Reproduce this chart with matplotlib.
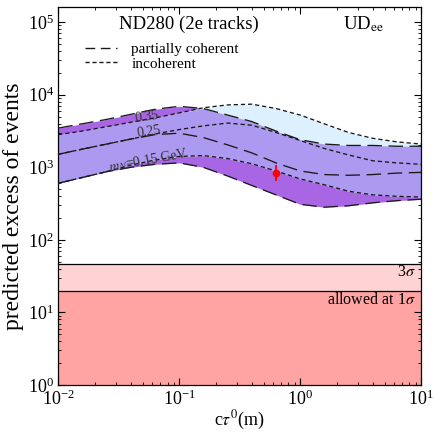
import numpy as np
import matplotlib
matplotlib.use("Agg")
import matplotlib.pyplot as plt
from matplotlib.lines import Line2D
from matplotlib.ticker import LogLocator, NullFormatter
import matplotlib.transforms as mtransforms

plt.rcParams['font.family'] = ['Liberation Serif', 'DejaVu Serif']
plt.rcParams['mathtext.fontset'] = 'stix'

# ---- data ----
ctau = [0.01, 0.0158, 0.0251, 0.0398, 0.0631, 0.1, 0.158, 0.251, 0.398,
        0.631, 1.0, 1.58, 2.51, 3.98, 6.31, 10.0]
# partially coherent
pc_035 = [3470, 3980, 4570, 5370, 6310, 6920, 6460, 5250, 4270, 3160, 2400,
          2090, 2000, 2000, 1950, 1950]
pc_025 = [1510, 1780, 2090, 2450, 2820, 2950, 2570, 2040, 1580, 1150, 891,
          794, 776, 794, 832, 851]
pc_015 = [603, 724, 871, 1000, 1100, 1150, 1000, 759, 562, 417, 309, 282,
          295, 324, 347, 363]
# incoherent
inc_035 = [2820, 3160, 3630, 4170, 4790, 5620, 6610, 7240, 7410, 6460, 5250,
           3980, 3020, 2510, 2240, 2090]
inc_025 = [1510, 1780, 2090, 2450, 2880, 3310, 3720, 4070, 3800, 3020, 2340,
           1820, 1480, 1230, 1150, 1100]
inc_015 = [603, 724, 871, 1070, 1260, 1410, 1450, 1320, 1120, 891, 692, 575,
           468, 417, 398, 389]

sigma1 = 20
sigma3 = 47
point_x = 0.63
point_y = 830
point_lo = 650
point_hi = 1060

x = np.array(ctau)
pc15, pc35 = np.array(pc_015), np.array(pc_035)
in15, in35 = np.array(inc_015), np.array(inc_035)

fig = plt.figure(figsize=(4.35, 4.32), dpi=100)
ax = fig.add_axes([0.134, 0.1088, 0.834, 0.8742])
ax.set_xscale('log')
ax.set_yscale('log')
ax.set_xlim(0.01, 10)
ax.set_ylim(1, 1.6e5)

c_dark = '#A966E4'
c_lav = '#AC99F0'
c_blue = '#DDF0FD'

ax.fill_between(x, pc15, pc35, color=c_dark, lw=0, zorder=1)
ax.fill_between(x, in15, in35, color=c_blue, lw=0, zorder=1)
lo = np.maximum(pc15, in15)
hi = np.minimum(pc35, in35)
ax.fill_between(x, lo, hi, where=hi >= lo, interpolate=True, color=c_lav,
                lw=0, zorder=2)

# red bands
ax.axhspan(1, sigma1, color='#FFA3A3', lw=0, zorder=1)
ax.axhspan(sigma1, sigma3, color='#FFD3D3', lw=0, zorder=1)
ax.axhline(sigma1, color='black', lw=0.9, zorder=3)
ax.axhline(sigma3, color='black', lw=0.9, zorder=3)

long_ls = (0, (11, 5))
short_ls = (0, (3.2, 2.2))
for y in (pc_035, pc_025, pc_015):
    ax.plot(x, y, color='#1a1a1a', lw=0.95, ls=long_ls, zorder=4)
for y in (inc_035, inc_025, inc_015):
    ax.plot(x, y, color='#1a1a1a', lw=0.95, ls=short_ls, zorder=4)

ax.errorbar([point_x], [point_y],
            yerr=[[point_y - point_lo], [point_hi - point_y]],
            fmt='o', color='red', ms=4.5, elinewidth=1.3, capsize=0, zorder=6)

# curve labels
lab_kw = dict(fontsize=10, color='#333333', ha='center', va='center', zorder=5)
ax.text(0.054, 5000, '0.35', rotation=8, **lab_kw)
ax.text(0.056, 3090, '0.25', rotation=8, **lab_kw)
ax.text(0.056, 1250, r'$m_N$=0.15 GeV', rotation=10, **lab_kw)

# titles
ax.text(0.36, 0.955, 'ND280 (2e tracks)', transform=ax.transAxes,
        fontsize=13.5, ha='center', va='center')
ax.text(0.84, 0.955, r'UD$_{\rm ee}$', transform=ax.transAxes,
        fontsize=13.5, ha='center', va='center')

blend = mtransforms.blended_transform_factory(ax.transAxes, ax.transData)
ax.text(0.985, 36, r'3$\sigma$', transform=blend, fontsize=11.5,
        ha='right', va='center')
ax.text(0.985, 15, r'allowed at 1$\sigma$', transform=blend,
        fontsize=11.5, ha='right', va='center')

handles = [Line2D([], [], color='#1a1a1a', lw=1.0, ls=(0, (7, 4))),
           Line2D([], [], color='#1a1a1a', lw=1.0, ls=(0, (3, 2)))]
ax.legend(handles, ['partially coherent', 'incoherent'], loc='upper left',
          bbox_to_anchor=(0.045, 0.935), frameon=False, fontsize=11,
          handlelength=2.1, handletextpad=0.9, labelspacing=0.05,
          borderpad=0.2)

ax.set_xlabel(r'c$\tau^0$(m)', fontsize=13, labelpad=0)
ax.set_ylabel('predicted excess of events', fontsize=17)
ax.yaxis.set_label_coords(-0.095, 0.474)

ax.yaxis.set_major_locator(LogLocator(base=10, numticks=10))
ax.yaxis.set_minor_locator(LogLocator(base=10, subs=np.arange(2, 10), numticks=10))
ax.yaxis.set_minor_formatter(NullFormatter())
ax.tick_params(which='both', direction='in', top=True, right=True)
ax.tick_params(which='major', length=5, width=0.8, labelsize=13, pad=3)
ax.tick_params(which='minor', length=2.5, width=0.6)
for s in ax.spines.values():
    s.set_linewidth(0.9)

fig.savefig('out.png', dpi=100)
